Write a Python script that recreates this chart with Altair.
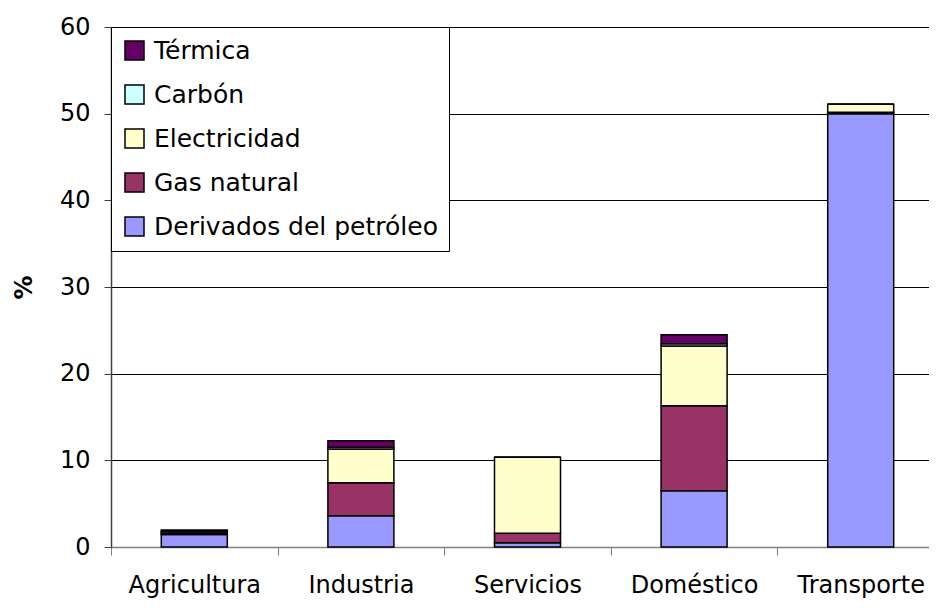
import altair as alt
import pandas as pd

categories = ["Agricultura", "Industria", "Servicios", "Doméstico", "Transporte"]
series = ["Derivados del petróleo", "Gas natural", "Electricidad", "Carbón", "Térmica"]
derivados = [1.45, 3.6, 0.5, 6.5, 50.0]
gas = [0.1, 3.8, 1.1, 9.8, 0.15]
electricidad = [0.2, 3.9, 8.75, 6.9, 0.95]
carbon = [0.05, 0.2, 0.0, 0.25, 0.0]
termica = [0.15, 0.75, 0.0, 1.05, 0.0]
colors = ["#9999FF", "#993366", "#FFFFCC", "#CCFFFF", "#660066"]

values = [derivados, gas, electricidad, carbon, termica]
rows = []
for si, (s, vals) in enumerate(zip(series, values)):
    for c, v in zip(categories, vals):
        rows.append({"Sector": c, "Fuente": s, "Valor": v, "orden": si})
df = pd.DataFrame(rows)

legend_order = list(reversed(series))
legend_colors = list(reversed(colors))

font = "DejaVu Sans"

chart = alt.Chart(df).mark_bar(stroke="black", strokeWidth=1.5, size=66).encode(
    x=alt.X("Sector:N", sort=categories, title=None,
            scale=alt.Scale(paddingInner=0, paddingOuter=0, range=[0, 833]),
            axis=alt.Axis(labelAngle=0, labelFontSize=24, labelFont=font, labelColor="black",
                          labelPadding=18, tickBand="extent", tickSize=8, tickColor="#808080",
                          domainColor="#808080", domainWidth=1.5, grid=False)),
    y=alt.Y("Valor:Q", title="%", stack="zero",
            scale=alt.Scale(domain=[0, 60], nice=False),
            axis=alt.Axis(values=[0, 10, 20, 30, 40, 50, 60], labelFontSize=24, labelFont=font,
                          labelColor="black", labelPadding=14, tickSize=7, tickColor="#404040",
                          domainColor="#404040", domainWidth=1.5, grid=True, gridColor="black",
                          gridWidth=1, titleFontSize=24, titleFont=font, titleFontWeight="bold",
                          titlePadding=23, titleColor="black")),
    color=alt.Color("Fuente:N", scale=alt.Scale(domain=legend_order, range=legend_colors),
                    legend=alt.Legend(title=None, orient="none", legendX=0, legendY=0,
                                      fillColor="white", strokeColor="black", padding=11,
                                      labelFontSize=25, labelFont=font, labelColor="black",
                                      symbolType="square", symbolSize=361, symbolStrokeColor="black",
                                      symbolStrokeWidth=1.5, symbolOpacity=1, rowPadding=18,
                                      labelOffset=7, labelLimit=500)),
    order=alt.Order("orden:Q", sort="ascending"),
).properties(
    width=818, height=520,
    autosize=alt.AutoSizeParams(type="none"),
    padding={"left": 103, "top": 19, "right": 0, "bottom": 53},
).configure_view(stroke=None)

chart.save("out.html", embed_options={"renderer": "svg", "actions": False})
